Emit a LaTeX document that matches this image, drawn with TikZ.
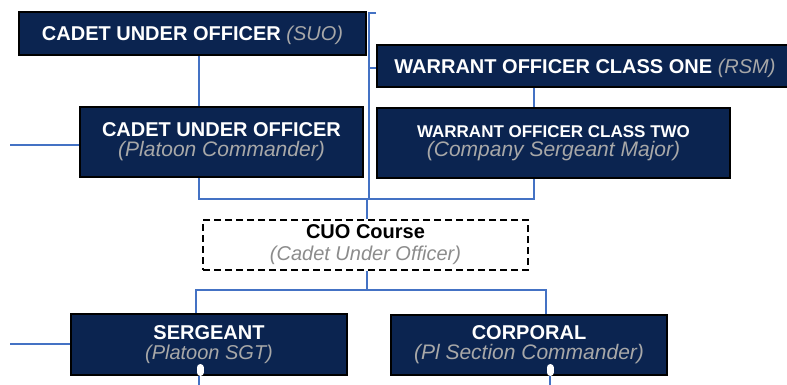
\documentclass[tikz,border=0pt]{standalone}
\usepackage{fontspec}
\setmainfont{Liberation Sans}
\definecolor{navy}{HTML}{0B2450}
\definecolor{subg}{HTML}{A8A8A8}
\definecolor{subd}{HTML}{8C8C8C}
\definecolor{link}{HTML}{4472C4}
\begin{document}
\begin{tikzpicture}[x=1pt,y=-1pt,
  rankbox/.style={draw=black,line width=1.9pt,fill=navy,inner sep=0pt,align=center,text=white,font=\fontsize{20}{20}\selectfont},
  oneline/.style={text depth=0pt},
  coursebox/.style={draw=black,line width=1.8pt,dash pattern=on 7pt off 4pt,fill=white,inner sep=0pt,align=center,text=black,font=\fontsize{20}{22}\selectfont},
  conn/.style={draw=link,line width=1.1pt},
  blob/.style={draw=white,line width=7pt,line cap=round}]
\clip (0,0) rectangle (787,385);
\fill[white] (0,0) rectangle (787,385);
% boxes
\node[rankbox,oneline,minimum width=347pt,minimum height=43pt] (suo) at (192.5,33.5)
  {\textbf{CADET UNDER OFFICER} {\itshape\color{subg}(SUO)}};
\node[rankbox,oneline,minimum width=416pt,minimum height=42pt] (wo1) at (585,66)
  {\textbf{WARRANT OFFICER CLASS ONE} {\itshape\color{subg}(RSM)}};
\node[rankbox,minimum width=283pt,minimum height=70pt] (plc) at (221.5,142)
  {\textbf{CADET UNDER OFFICER}\\{\fontsize{21}{20}\selectfont\itshape\color{subg}(Platoon Commander)}};
\node[rankbox,minimum width=353pt,minimum height=70pt,font=\fontsize{17}{19}\selectfont] (wo2) at (553.5,143)
  {\textbf{WARRANT OFFICER CLASS TWO}\\{\fontsize{21}{19}\selectfont\itshape\color{subg}(Company Sergeant Major)}};
\node[coursebox,minimum width=325pt,minimum height=50pt] (cuo) at (365.5,245)
  {\textbf{CUO Course}\\{\itshape\color{subd}(Cadet Under Officer)}};
\node[rankbox,minimum width=276pt,minimum height=61pt] (sgt) at (209,344.5)
  {\textbf{SERGEANT}\\{\itshape\color{subg}(Platoon SGT)}};
\node[rankbox,minimum width=276pt,minimum height=60pt] (cpl) at (529,345)
  {\textbf{CORPORAL}\\{\fontsize{21}{20}\selectfont\itshape\color{subg}(Pl Section Commander)}};
% connector coordinates
\coordinate (xa) at (199,0);
\coordinate (bt) at (376,13);
\coordinate (bb) at (369,199);
\coordinate (bm) at (369,68);
\coordinate (busA) at (199,199);
\coordinate (busB) at (534,199);
\coordinate (xc) at (367,199);
\coordinate (xd) at (367,290);
\coordinate (busC) at (196,290);
\coordinate (busD) at (546,290);
\coordinate (l1) at (10,145);
\coordinate (l2) at (10,344);
\coordinate (s1) at (200,367.5);
\coordinate (s2) at (550,367.5);
\coordinate (e1) at (199,386);
\coordinate (e2) at (550,386);
% connectors
\draw[conn] (suo.south -| xa) -- (plc.north -| xa);
\draw[conn] (bt) -- (bt -| bb) -- (bb);
\draw[conn] (bm) -- (bm -| wo1.west);
\draw[conn] (wo1.south -| busB) -- (wo2.north -| busB);
\draw[conn] (plc.south -| busA) -- (busA) -- (busB) -- (wo2.south -| busB);
\draw[conn] (xc) -- (cuo.north -| xc);
\draw[conn] (cuo.south -| xd) -- (xd);
\draw[conn] (sgt.north -| busC) -- (busC) -- (busD) -- (cpl.north -| busD);
\draw[conn] (l1) -- (l1 -| plc.west);
\draw[conn] (l2) -- (l2 -| sgt.west);
\draw[blob] (s1) -- ++(0,5);
\draw[blob] (s2) -- ++(0,5);
\draw[conn] (sgt.south -| e1) -- (e1);
\draw[conn] (cpl.south -| e2) -- (e2);
\end{tikzpicture}
\end{document}
